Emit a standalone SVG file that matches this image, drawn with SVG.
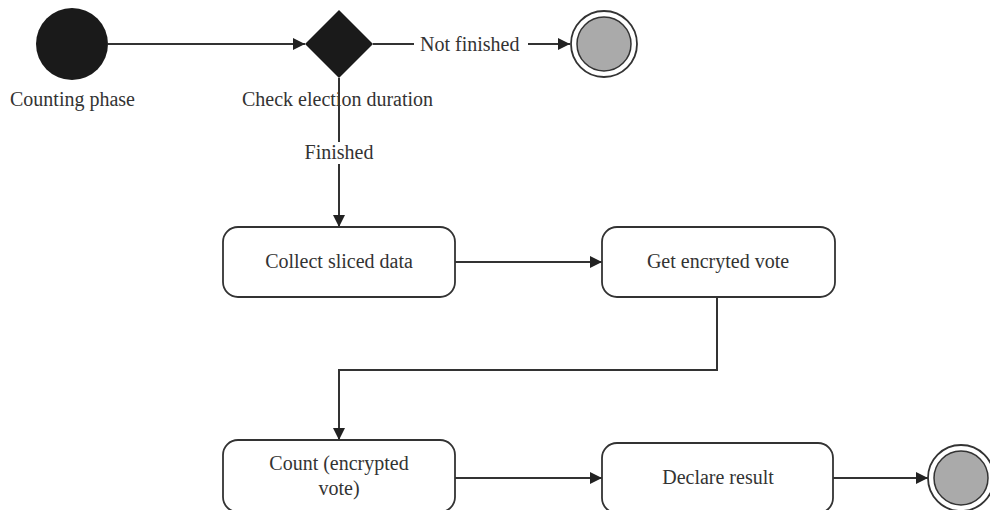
<svg xmlns="http://www.w3.org/2000/svg" width="990" height="510" viewBox="0 0 990 510">
<defs>
<style>
text{font-family:"Liberation Serif","DejaVu Serif",serif;font-size:20px;fill:#333}
.c{text-anchor:middle}
.box{fill:#fff;stroke:#333;stroke-width:1.8}
.ln{fill:none;stroke:#333;stroke-width:2}
.lbl{fill:#fff}
</style>
<marker id="ah" viewBox="0 0 12 12" refX="12" refY="6" markerWidth="12" markerHeight="12" markerUnits="userSpaceOnUse" orient="auto">
<path d="M0,0 L12,6 L0,12 Z" fill="#222"/>
</marker>
</defs>
<rect width="990" height="510" fill="#fff"/>
<g id="connectors">
<line class="ln" x1="108" y1="44" x2="305" y2="44" marker-end="url(#ah)"/>
<line class="ln" x1="373" y1="44" x2="414" y2="44"/>
<line class="ln" x1="528" y1="44" x2="570" y2="44" marker-end="url(#ah)"/>
<line class="ln" x1="339" y1="78" x2="339" y2="227" marker-end="url(#ah)"/>
<line class="ln" x1="455" y1="262" x2="602" y2="262" marker-end="url(#ah)"/>
<polyline class="ln" points="717,297 717,370 339,370 339,440" marker-end="url(#ah)"/>
<line class="ln" x1="455" y1="478" x2="602" y2="478" marker-end="url(#ah)"/>
<line class="ln" x1="833" y1="478" x2="928" y2="478" marker-end="url(#ah)"/>
<rect class="lbl" x="302" y="142" width="74" height="22"/>
<text class="c" x="339" y="159">Finished</text>
<text x="420" y="51">Not finished</text>
</g>
<g id="start">
<circle cx="72" cy="44" r="36" fill="#1a1a1a"/>
<text x="10" y="106">Counting phase</text>
</g>
<g id="decision">
<polygon points="339,10 373,44 339,78 305,44" fill="#1a1a1a"/>
<text x="242" y="106">Check election duration</text>
</g>
<g id="end-top">
<circle cx="604" cy="44" r="33" fill="#fff" stroke="#333" stroke-width="1.8"/>
<circle cx="604" cy="44" r="27" fill="#aaa" stroke="#333" stroke-width="1.5"/>
</g>
<g id="collect">
<rect class="box" x="223" y="227" width="232" height="70" rx="15"/>
<text class="c" x="339" y="268">Collect sliced data</text>
</g>
<g id="getvote">
<rect class="box" x="602" y="227" width="233" height="70" rx="15"/>
<text class="c" x="718" y="268">Get encryted vote</text>
</g>
<g id="count">
<rect class="box" x="223" y="440" width="232" height="72" rx="15"/>
<text class="c" x="339" y="470">Count (encrypted</text>
<text class="c" x="339" y="495">vote)</text>
</g>
<g id="declare">
<rect class="box" x="602" y="443" width="231" height="70" rx="15"/>
<text class="c" x="718" y="484">Declare result</text>
</g>
<g id="end-bottom">
<circle cx="961" cy="478" r="33" fill="#fff" stroke="#333" stroke-width="1.8"/>
<circle cx="961" cy="478" r="27" fill="#aaa" stroke="#333" stroke-width="1.5"/>
</g>
</svg>
